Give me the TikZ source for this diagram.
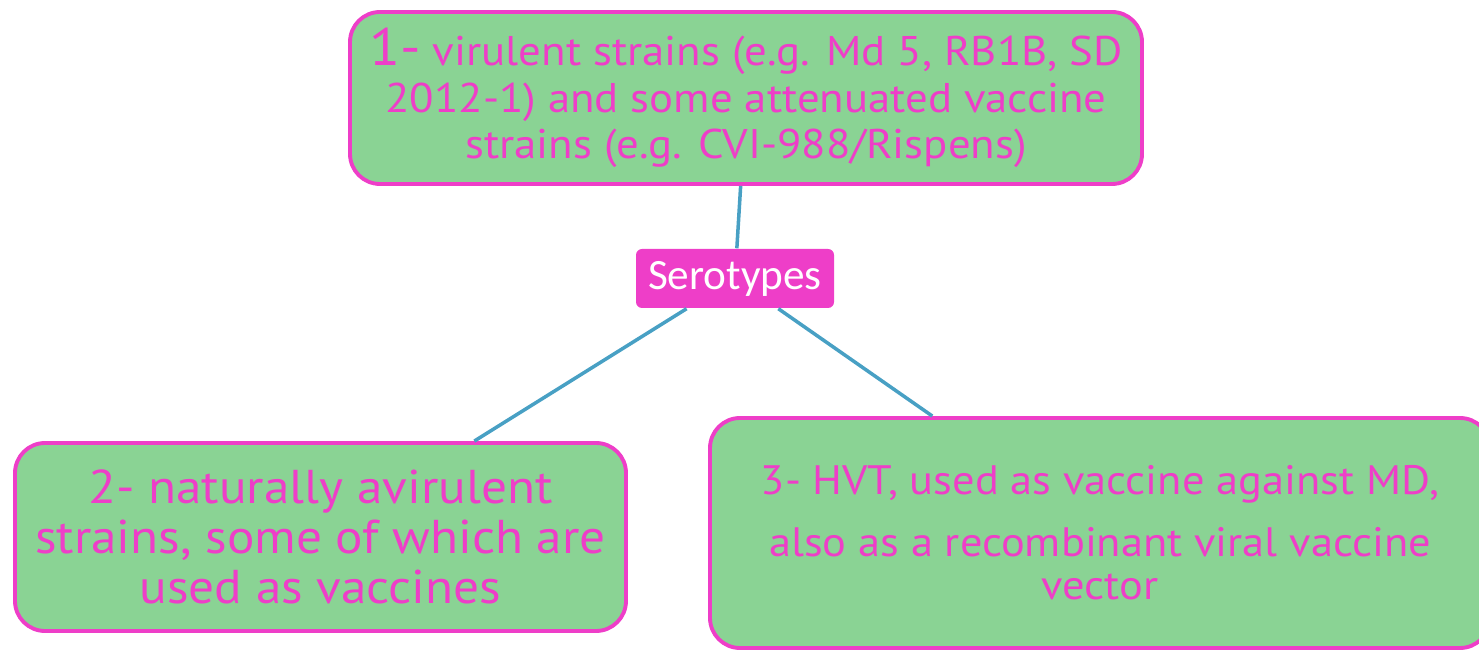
\documentclass[tikz,border=0pt]{standalone}
\usepackage{fontspec}
\setmainfont{PT Sans}[FakeStretch=1.08]
\newfontfamily\serofont{Carlito}
\usepackage{tikz}
\usetikzlibrary{positioning}

\definecolor{leafgreen}{RGB}{138,211,148}
\definecolor{seropink}{RGB}{238,62,200}
\definecolor{linkblue}{RGB}{72,160,196}

\begin{document}
\begin{tikzpicture}[
    strain/.style={draw=seropink,line width=1.1pt,fill=leafgreen,rounded corners=0.3cm,
                   text=seropink,align=center,inner sep=0pt},
    hub/.style={fill=seropink,rounded corners=0.06cm,text=white,inner sep=0pt,
                font=\serofont\fontsize{12.3}{13}\selectfont},
    link/.style={draw=linkblue,line width=1pt}]
    \useasboundingbox (0,0) rectangle (14.79,6.5);
    \clip (0,0) rectangle (14.79,6.5);

    \node[hub,minimum width=1.98cm,minimum height=0.59cm] (sero) at (7.35,3.715) {Serotypes};

    \node[strain,minimum width=7.92cm,minimum height=1.72cm,
          font=\fontsize{11.8}{13.3}\selectfont] (s1) at (7.46,5.52)
        {{\fontsize{15}{13.3}\selectfont 1-} virulent strains (e.g. Md 5, RB1B, SD\\
         2012-1) and some attenuated vaccine\\
         strains (e.g. CVI-988/Rispens)};
    \node[strain,minimum width=6.11cm,minimum height=1.88cm,
          font=\fontsize{13.5}{14.2}\selectfont] (s2) at (3.205,1.13)
        {2- naturally avirulent\\
         strains, some of which are\\
         used as vaccines};
    \node[strain,minimum width=7.8cm,minimum height=2.3cm,
          font=\fontsize{11.7}{12.2}\selectfont] (s3) at (11.0,1.17)
        {3- HVT, used as vaccine against MD,\\[5.5pt]
         also as a recombinant viral vaccine\\
         vector};

    \path[link]
    (sero) edge (s1)
    (sero) edge (s2)
    (sero) edge (s3);
\end{tikzpicture}
\end{document}
